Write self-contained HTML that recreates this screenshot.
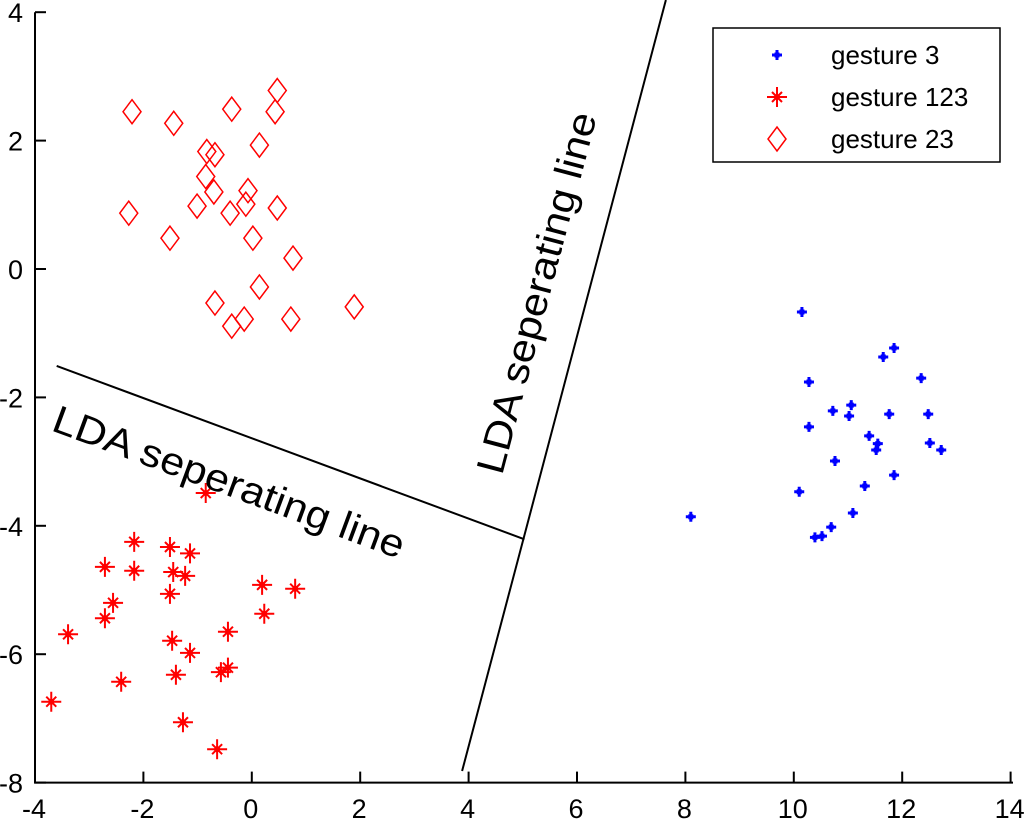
<!DOCTYPE html>
<html><head><meta charset="utf-8"><style>
html,body{margin:0;padding:0;background:#fff;}
svg{display:block;font-family:"Liberation Sans",sans-serif;}
</style></head><body>
<svg id="chart" width="1024" height="819" viewBox="0 0 1024 819" xmlns="http://www.w3.org/2000/svg">
<g id="axes"></g>
<g id="marks"></g>
<g id="lines"></g>
<text x="0" y="0" font-size="39" textLength="372" lengthAdjust="spacingAndGlyphs" transform="translate(50,430) rotate(20.3)">LDA seperating line</text>
<text x="0" y="0" font-size="39" textLength="372" lengthAdjust="spacingAndGlyphs" transform="translate(502,476) rotate(-75.2)">LDA seperating line</text>
<g>
<rect x="713" y="28" width="287" height="134" fill="#fff" stroke="#000" stroke-width="1.5"/>
<g id="legend-items"></g>
</g>
</svg>
<script>
const xTicks=[-4,-2,0,2,4,6,8,10,12,14];
const yTicks=[-8,-6,-4,-2,0,2,4];
const g3X=[10.15,11.85,11.65,12.35,10.28,11.06,10.72,11.02,11.76,12.48,10.28,11.39,11.55,11.52,12.51,12.72,10.76,11.85,11.31,10.10,11.09,10.69,10.52,10.39,8.10];
const g3Y=[-0.67,-1.23,-1.37,-1.70,-1.76,-2.12,-2.21,-2.29,-2.26,-2.26,-2.46,-2.60,-2.72,-2.82,-2.71,-2.82,-2.99,-3.21,-3.38,-3.47,-3.80,-4.02,-4.16,-4.18,-3.86];
const g123X=[-0.85,-2.17,-1.51,-1.14,-2.71,-2.17,-1.45,-1.23,0.19,0.80,-1.51,-2.56,-2.71,0.23,-3.39,-0.44,-1.47,-1.14,-0.44,-0.57,-1.40,-2.41,-3.70,-1.27,-0.64];
const g123Y=[-3.49,-4.25,-4.33,-4.43,-4.64,-4.70,-4.72,-4.78,-4.92,-4.98,-5.06,-5.20,-5.44,-5.37,-5.69,-5.65,-5.79,-5.98,-6.21,-6.28,-6.32,-6.43,-6.74,-7.06,-7.48];
const g23X=[-2.21,-1.44,-0.37,0.47,0.43,0.14,-0.83,-0.68,-0.85,-0.70,-0.07,-0.11,-1.01,-0.40,0.47,-2.27,-1.51,0.02,0.76,0.14,-0.68,-0.14,-0.37,0.72,1.89];
const g23Y=[2.45,2.27,2.49,2.78,2.45,1.93,1.83,1.78,1.44,1.20,1.22,1.01,0.98,0.87,0.95,0.87,0.48,0.48,0.17,-0.28,-0.53,-0.78,-0.89,-0.78,-0.59];
const line1X=[-3.6,5.03];
const line1Y=[-1.51,-4.21];
const line2X=[3.88,7.64];
const line2Y=[-7.82,4.19];

const NS="http://www.w3.org/2000/svg";
const sx=v=>35+(v+4)*54.2;
const sy=v=>269-v*64.2;
function mk(tag,attrs,parent){const e=document.createElementNS(NS,tag);for(const k in attrs)e.setAttribute(k,attrs[k]);parent.appendChild(e);return e;}
const axes=document.getElementById('axes');
let a=mk('path',{d:`M${sx(-4)},${sy(4)} L${sx(-4)},${sy(-8)} L1013,${sy(-8)}`,fill:'none',stroke:'#000','stroke-width':2},axes);


xTicks.forEach(t=>{
  const tk=mk('line',{x1:sx(t),x2:sx(t),y1:sy(-8),y2:sy(-8)-11,stroke:'#000','stroke-width':2},axes);
  
  
  const tx=mk('text',{x:sx(t)-1,y:818,'font-size':27,'text-anchor':'middle'},axes);
  tx.textContent=t;
  
  
});
yTicks.forEach(t=>{
  const tk=mk('line',{x1:sx(-4),x2:sx(-4)+11,y1:sy(t),y2:sy(t),stroke:'#000','stroke-width':2},axes);
  
  
  const tx=mk('text',{x:23,y:sy(t)+10,'font-size':27,'text-anchor':'end'},axes);
  tx.textContent=t;
  
  
});
const marks=document.getElementById('marks');
function dot(x,y,p){const e=mk('path',{d:`M${x-5},${y} L${x+5},${y} M${x},${y-5} L${x},${y+5}`,stroke:'#00f','stroke-width':3,fill:'none'},p);mk('rect',{x:x-2.5,y:y-2.5,width:5,height:5,fill:'#00f'},p);return e;}
function star(x,y,p){const e=mk('path',{d:`M${x-10},${y} L${x+10},${y} M${x},${y-10} L${x},${y+10} M${x-5},${y-5} L${x+5},${y+5} M${x-5},${y+5} L${x+5},${y-5}`,stroke:'#f00','stroke-width':2,fill:'none'},p);mk('circle',{cx:x,cy:y,r:3,fill:'#f00'},p);return e;}
function dia(x,y,p){return mk('path',{d:`M${x},${y-12} L${x+9},${y} L${x},${y+12} L${x-9},${y} Z`,stroke:'#f00','stroke-width':1.5,fill:'none'},p);}
g3X.forEach((v,i)=>{const g=mk('g',{},marks);dot(sx(v),sy(g3Y[i]),g);
  
  });
g123X.forEach((v,i)=>{const g=mk('g',{},marks);star(sx(v),sy(g123Y[i]),g);
  
  });
g23X.forEach((v,i)=>{const g=mk('g',{},marks);dia(sx(v),sy(g23Y[i]),g);
  
  });
const lines=document.getElementById('lines');
const l1=mk('line',{x1:sx(line1X[0]),y1:sy(line1Y[0]),x2:sx(line1X[1]),y2:sy(line1Y[1]),stroke:'#000','stroke-width':2},lines);


const l2=mk('line',{x1:sx(line2X[0]),y1:sy(line2Y[0]),x2:sx(line2X[1]),y2:sy(line2Y[1]),stroke:'#000','stroke-width':2},lines);


const li=document.getElementById('legend-items');
const labels=['gesture 3','gesture 123','gesture 23'];
const fns=[dot,star,dia];
[55,97,139].forEach((y,i)=>{
  const g=mk('g',{},li);
  
  
  fns[i](777,y,g);
  const t=mk('text',{x:831,y:y+9,'font-size':26},g);
  t.textContent=labels[i];
});
</script>
</body></html>
